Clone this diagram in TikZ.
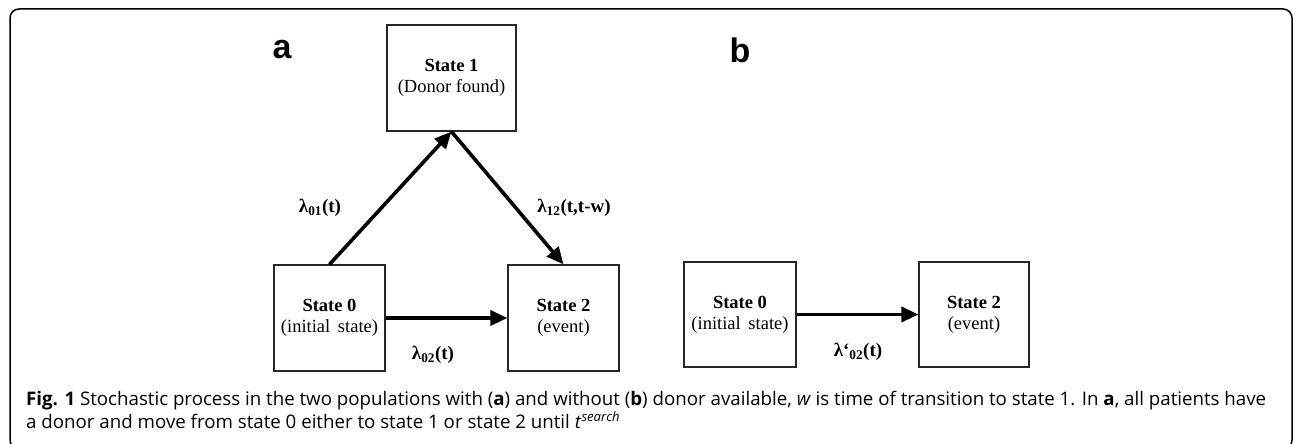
\documentclass[tikz,border=0pt]{standalone}
\usepackage{graphicx}
\usepackage{fontspec}
\setmainfont{Liberation Serif}
\newfontfamily\capfont{Open Sans}
\newfontfamily\labfont{Liberation Sans}
\usetikzlibrary{arrows.meta}
\newsavebox\caponebox
\newsavebox\captwobox
\newdimen\capwd
\AtBeginDocument{%
\global\setbox\caponebox=\hbox{\fontsize{18}{22}\capfont\textbf{Fig. 1} Stochastic process in the two populations with (\textbf{a}) and without (\textbf{b}) donor available, \textit{w} is time of transition to state 1. In \textbf{a}, all patients have}%
\global\setbox\captwobox=\hbox{\fontsize{18}{22}\capfont a donor and move from state 0 either to state 1 or state 2 until \textit{t}\textsuperscript{\textit{search}}}%
\global\capwd=\wd\caponebox}
\begin{document}
\begin{tikzpicture}[x=1pt,y=-1pt,
  statebox/.style={draw=black!85,line width=1.2pt,inner sep=0pt,align=center,
    font=\fontsize{18.5}{21}\selectfont},
  trans/.style={line width=3.6pt,-{Triangle[length=17pt,width=15pt]}},
  rate/.style={inner sep=0pt,font=\fontsize{19}{21}\selectfont\bfseries},
  panel/.style={inner sep=0pt,font=\fontsize{34}{34}\labfont\bfseries},
  captxt/.style={inner sep=0pt,anchor=base west}]
\useasboundingbox (0,0) rectangle (1293,444);
\draw[line width=1.5pt,rounded corners=9pt] (10,9) -- (1292,9) -- (1292,449) -- (10,449) -- cycle;
% panel a
\node[panel] (la) at (282,50) {a};
\node[statebox,minimum width=129pt,minimum height=106pt] (s1) at (451.5,78) {\textbf{State 1}\\(Donor found)};
\node[statebox,minimum width=111pt,minimum height=106pt] (s0a) at (329.5,318) {\textbf{State 0}\\(initial\, state)};
\node[statebox,minimum width=111pt,minimum height=106pt] (s2a) at (563.5,318) {\textbf{State 2}\\(event)};
\draw[trans] (s0a.north) -- (s1.south);
\draw[trans] (s1.south) -- (s2a.north);
\draw[trans] (s0a.east) -- (s2a.west);
\node[rate] (r01) at (320,208) {λ\textsubscript{01}(t)};
\node[rate] (r12) at (574,208) {λ\textsubscript{12}(t,t-w)};
\node[rate] (r02) at (433,355) {λ\textsubscript{02}(t)};
% panel b
\node[panel] (lb) at (740,50) {b};
\node[statebox,minimum width=112pt,minimum height=105pt] (s0b) at (740,314.5) {\textbf{State 0}\\(initial\, state)};
\node[statebox,minimum width=110pt,minimum height=105pt] (s2b) at (974,314.5) {\textbf{State 2}\\(event)};
\draw[trans] (s0b.east) -- (s2b.west);
\node[rate] (r02b) at (858,352) {λ‘\textsubscript{02}(t)};
% caption
\pgfmathsetmacro\capscale{1240pt/\capwd}
\node[captxt] (c1) at (26,405) {\scalebox{\capscale}{\usebox\caponebox}};
\node[captxt] (c2) at (26,428) {\scalebox{\capscale}{\usebox\captwobox}};
\end{tikzpicture}
\end{document}
